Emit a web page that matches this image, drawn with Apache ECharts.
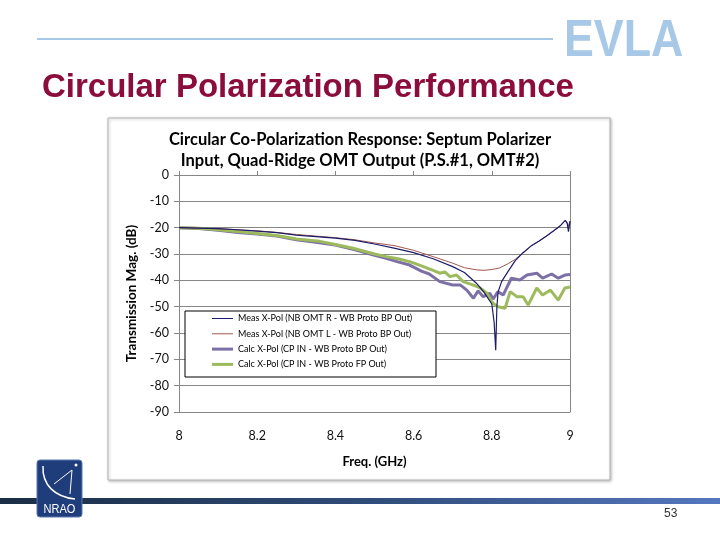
<!DOCTYPE html>
<html>
<head>
<meta charset="utf-8">
<script src="https://cdn.jsdelivr.net/npm/echarts@6/dist/echarts.min.js"></script>
<style>html,body{margin:0;padding:0;background:#fff;}#c{width:720px;height:540px;}</style>
</head>
<body>
<div id="c"></div>
<script>
// ---- data ----
const seriesNames = [
  'Meas X-Pol (NB OMT R - WB Proto BP Out)',
  'Meas X-Pol (NB OMT L - WB Proto BP Out)',
  'Calc X-Pol (CP IN - WB Proto BP Out)',
  'Calc X-Pol (CP IN - WB Proto FP Out)'
];
const xTicks = [8, 8.2, 8.4, 8.6, 8.8, 9];
const yTicks = [0, -10, -20, -30, -40, -50, -60, -70, -80, -90];

const measR_freq = [8.0, 8.05, 8.1, 8.15, 8.2, 8.25, 8.3, 8.35, 8.4, 8.45, 8.5, 8.55, 8.6, 8.65, 8.7, 8.73, 8.76, 8.78, 8.8, 8.806, 8.81, 8.813, 8.816, 8.825, 8.84, 8.86, 8.88, 8.9, 8.92, 8.94, 8.96, 8.975, 8.988, 8.993, 8.996, 9.0];
const measR_db   = [-20, -20.2, -20.4, -20.8, -21.3, -21.9, -22.8, -23.4, -24.0, -24.8, -26.2, -27.8, -29.5, -31.8, -34.8, -37.0, -41.0, -44.5, -49.0, -56, -66.5, -50, -44.5, -40.5, -37.0, -32.5, -29.5, -27.0, -25.2, -23.2, -21.0, -19.3, -17.2, -18.5, -21.5, -17.5];

const measL_freq = [8.0, 8.05, 8.1, 8.15, 8.2, 8.25, 8.3, 8.35, 8.4, 8.45, 8.5, 8.55, 8.6, 8.65, 8.7, 8.73, 8.76, 8.78, 8.8, 8.82, 8.84, 8.86, 8.88, 8.9, 8.92, 8.94, 8.96, 8.975, 8.988, 8.993, 8.996, 9.0];
const measL_db   = [-20, -20.2, -20.4, -20.8, -21.2, -21.8, -22.6, -23.2, -23.8, -24.6, -25.8, -26.8, -28.6, -31.0, -33.5, -35.2, -36.0, -36.2, -35.9, -35.3, -33.8, -32.0, -29.5, -27.0, -25.2, -23.2, -21.0, -19.3, -17.2, -18.0, -19.5, -17.5];

const calcBP_freq = [8.0, 8.05, 8.1, 8.15, 8.2, 8.25, 8.3, 8.35, 8.4, 8.45, 8.5, 8.53, 8.56, 8.59, 8.62, 8.64, 8.667, 8.7, 8.72, 8.736, 8.753, 8.765, 8.778, 8.795, 8.803, 8.816, 8.829, 8.85, 8.872, 8.89, 8.915, 8.93, 8.953, 8.97, 8.987, 9.0];
const calcBP_db   = [-20, -20.3, -21.0, -21.8, -22.4, -23.2, -24.6, -25.5, -26.6, -28.4, -30.5, -31.6, -33.0, -34.2, -36.5, -37.6, -40.5, -41.8, -41.8, -43.7, -46.8, -44.0, -46.2, -44.9, -47.1, -44.3, -45.6, -39.2, -39.9, -38.0, -37.3, -39.2, -37.6, -39.2, -38.0, -37.8];

const calcFP_freq = [8.0, 8.05, 8.1, 8.15, 8.2, 8.25, 8.3, 8.36, 8.4, 8.445, 8.5, 8.53, 8.56, 8.59, 8.62, 8.65, 8.667, 8.68, 8.693, 8.71, 8.727, 8.753, 8.77, 8.787, 8.803, 8.816, 8.834, 8.847, 8.864, 8.88, 8.893, 8.915, 8.93, 8.95, 8.97, 8.987, 9.0];
const calcFP_db   = [-20, -20.2, -20.8, -21.5, -22.2, -23.0, -24.3, -25.2, -26.4, -27.8, -30.0, -31.0, -31.8, -32.9, -34.5, -36.2, -37.3, -36.8, -38.6, -38.0, -40.5, -41.8, -42.9, -44.9, -48.7, -50.0, -50.6, -44.3, -46.2, -46.2, -49.4, -42.9, -45.6, -43.7, -47.5, -42.9, -42.5];

const pairs = (xs, ys) => xs.map((x, i) => [x, ys[i]]);
const FONT = 'Lato, "Open Sans", sans-serif';
const thinIcon = 'path://M0,0L21,0L21,1L0,1Z';
const thickIcon = 'path://M0,0L7,0L7,1L0,1Z';

const chart = echarts.init(document.getElementById('c'), null, {renderer: 'canvas'});
chart.setOption({
  animation: false,
  backgroundColor: '#ffffff',
  title: {
    text: 'Circular Co-Polarization Response: Septum Polarizer\nInput, Quad-Ridge OMT Output (P.S.#1, OMT#2)',
    left: 'center', top: 124,
    textStyle: {fontFamily: FONT, fontSize: 16.5, fontWeight: 'bold', color: '#000', lineHeight: 21}
  },
  grid: {left: 179, right: 150, top: 175, bottom: 128, containLabel: false},
  legend: {
    orient: 'vertical', left: 185, top: 311,
    padding: [3, 10, 4, 27],
    itemWidth: 21, itemHeight: 10, itemGap: 6.3,
    symbolKeepAspect: true,
    textStyle: {fontFamily: FONT, fontSize: 9, color: '#000'},
    data: [
      {name: seriesNames[0], icon: thinIcon},
      {name: seriesNames[1], icon: thinIcon},
      {name: seriesNames[2], icon: thickIcon},
      {name: seriesNames[3], icon: thickIcon}
    ],
    z: 6
  },
  xAxis: {
    type: 'value', min: xTicks[0], max: xTicks[xTicks.length - 1], interval: 0.2,
    name: 'Freq. (GHz)', nameLocation: 'middle', nameGap: 43,
    nameTextStyle: {fontFamily: FONT, fontSize: 13, fontWeight: 'bold', color: '#000'},
    axisLine: {show: true, lineStyle: {color: '#868686', width: 1}},
    axisTick: {show: true, inside: true, length: 4, lineStyle: {color: '#868686'}},
    axisLabel: {fontFamily: FONT, fontSize: 12.5, color: '#111', margin: 17},
    splitLine: {show: false}
  },
  yAxis: [{
    type: 'value', min: yTicks[yTicks.length - 1], max: yTicks[0], interval: 10,
    name: 'Transmission Mag. (dB)', nameLocation: 'middle', nameGap: 34, nameRotate: 90,
    nameTextStyle: {fontFamily: FONT, fontSize: 13.5, fontWeight: 'bold', color: '#000'},
    axisLine: {show: true, lineStyle: {color: '#868686', width: 1}},
    axisTick: {show: true, length: 5, lineStyle: {color: '#868686'}},
    axisLabel: {fontFamily: FONT, fontSize: 12.5, color: '#111', margin: 10},
    splitLine: {show: true, lineStyle: {color: '#868686', width: 1}}
  }, {
    type: 'value', min: yTicks[yTicks.length - 1], max: yTicks[0], interval: 10, position: 'right',
    axisLine: {show: true, lineStyle: {color: '#868686', width: 1}},
    axisTick: {show: false}, axisLabel: {show: false}, splitLine: {show: false}
  }],
  series: [
    {name: seriesNames[2], type: 'line', data: pairs(calcBP_freq, calcBP_db), symbol: 'none',
     lineStyle: {color: '#7D70A6', width: 3}, itemStyle: {color: '#7D70A6'}, z: 2},
    {name: seriesNames[3], type: 'line', data: pairs(calcFP_freq, calcFP_db), symbol: 'none',
     lineStyle: {color: '#9DBA5C', width: 3}, itemStyle: {color: '#9DBA5C'}, z: 3},
    {name: seriesNames[1], type: 'line', data: pairs(measL_freq, measL_db), symbol: 'none',
     lineStyle: {color: '#A3574E', width: 1}, itemStyle: {color: '#A3574E'}, z: 4},
    {name: seriesNames[0], type: 'line', data: pairs(measR_freq, measR_db), symbol: 'none',
     lineStyle: {color: '#1C1C6B', width: 1.2}, itemStyle: {color: '#1C1C6B'}, z: 5}
  ],
  graphic: [
    // chart box
    {type: 'rect', z: -10, silent: true, shape: {x: 108, y: 118, width: 502, height: 362},
     style: {fill: '#fff', stroke: '#b3b3b3', lineWidth: 1, shadowColor: 'rgba(0,0,0,0.25)', shadowBlur: 3, shadowOffsetX: 1, shadowOffsetY: 1}},
    // legend box
    {type: 'rect', z: 5, silent: true, shape: {x: 185, y: 311, width: 251, height: 66},
     style: {fill: '#fff', stroke: '#000', lineWidth: 1}},
    // slide header line
    {type: 'line', z: 10, silent: true, shape: {x1: 37, y1: 39, x2: 553, y2: 39}, style: {stroke: '#A7C8E6', lineWidth: 2}},
    {type: 'text', z: 10, silent: true, x: 564, y: 68, scaleX: 0.86,
     style: {text: 'EVLA', fill: '#A7C8E6', font: 'bold 52px "Liberation Sans", Arial, sans-serif', textVerticalAlign: 'bottom'}},
    {type: 'text', z: 10, silent: true, x: 42, y: 104,
     style: {text: 'Circular Polarization Performance', fill: '#8A0D3C', font: 'bold 33px "Liberation Sans", Arial, sans-serif', textVerticalAlign: 'bottom'}},
    // bottom bar
    {type: 'rect', z: 10, silent: true, shape: {x: 0, y: 498, width: 720, height: 6},
     style: {fill: new echarts.graphic.LinearGradient(0, 0, 1, 0, [{offset: 0, color: '#1a2e44'}, {offset: 0.5, color: '#2f4b78'}, {offset: 1, color: '#5577bf'}])}},
    // NRAO logo
    {type: 'rect', z: 11, silent: true, shape: {x: 37, y: 460, width: 45, height: 57, r: 3},
     style: {fill: '#1F3D7A', stroke: '#5a78b0', lineWidth: 1}},
    {type: 'bezierCurve', z: 12, silent: true, shape: {x1: 43, y1: 466, cpx1: 42, cpy1: 485, cpx2: 55, cpy2: 497, x2: 75, y2: 499},
     style: {stroke: '#fff', lineWidth: 1.5, fill: null}},
    {type: 'line', z: 12, silent: true, shape: {x1: 54, y1: 484, x2: 72, y2: 470}, style: {stroke: '#fff', lineWidth: 1}},
    {type: 'line', z: 12, silent: true, shape: {x1: 70, y1: 494, x2: 72, y2: 470}, style: {stroke: '#fff', lineWidth: 1}},
    {type: 'circle', z: 12, silent: true, shape: {cx: 76, cy: 465, r: 1.5}, style: {fill: '#fff'}},
    {type: 'text', z: 12, silent: true, x: 59.5, y: 516, scaleX: 0.85, originX: 0,
     style: {text: 'NRAO', fill: '#fff', font: '13px "Liberation Sans", Arial, sans-serif', textAlign: 'center', textVerticalAlign: 'bottom'}},
    {type: 'text', z: 10, silent: true, x: 664, y: 520,
     style: {text: '53', fill: '#333', font: '12px "Liberation Sans", Arial, sans-serif', textVerticalAlign: 'bottom'}}
  ]
});
</script>
</body>
</html>
